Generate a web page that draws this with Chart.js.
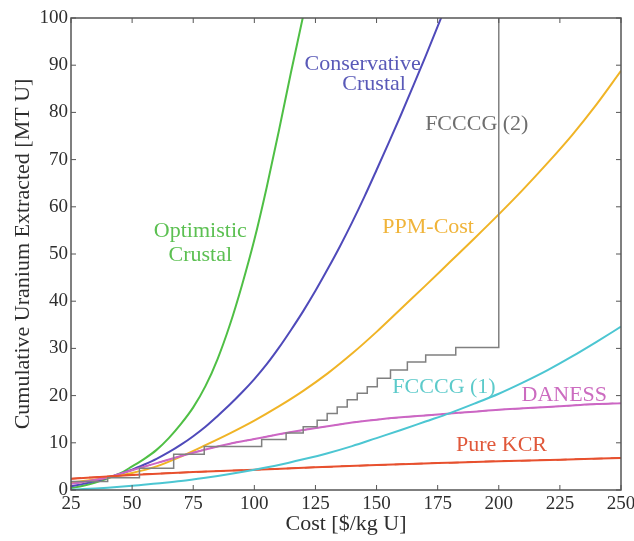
<!DOCTYPE html>
<html>
<head>
<meta charset="utf-8">
<script src="https://cdn.jsdelivr.net/npm/chart.js@4.4.1/dist/chart.umd.min.js"></script>
<style>
  html, body { margin: 0; padding: 0; background: #fff; }
</style>
</head>
<body>
<canvas id="uranio" width="634" height="541"></canvas>
<script>
// ---- curves: cost [$/kg U] -> cumulative uranium [MT U] ----
const optimisticCost = [25,30,35,40,45,50,55,60,65,70,75,80,85,90,95,100,105,110,115,120,125];
const optimisticU    = [0.4,0.9,1.6,2.5,3.5,5.0,6.6,8.5,11,14,17.5,22,27.8,35,43.5,53,64,76,88.5,100.5,113];

const conservCost = [25,30,35,40,45,50,55,60,65,70,75,80,85,90,95,100,105,110,115,120,125,130,135,140,145,150,155,160,165,170,175,180];
const conservU    = [0.8,1.3,1.9,2.6,3.4,4.3,5.4,6.6,8.0,9.6,11.4,13.4,15.7,18.1,20.7,23.5,26.6,30.1,33.9,37.9,42.2,46.8,51.6,56.7,62.1,67.8,73.6,79.5,85.6,91.8,98.2,104.7];

const ppmCost = [25,30,40,50,60,70,80,90,100,110,120,130,140,150,160,170,180,190,200,210,220,230,240,250];
const ppmU    = [1.6,1.9,2.6,3.6,5.0,7.1,9.5,12.0,14.7,17.7,21.0,24.7,28.9,33.5,38.4,43.3,48.3,53.3,58.4,63.7,69.3,75.2,81.7,88.8];

const fcccg1Cost = [25,30,40,50,60,70,80,90,100,110,120,130,140,150,160,170,180,190,200,210,220,230,240,250];
const fcccg1U    = [0.1,0.2,0.5,0.9,1.4,1.9,2.6,3.4,4.3,5.3,6.5,7.8,9.3,11.0,12.7,14.5,16.3,18.3,20.4,22.8,25.4,28.3,31.4,34.6];

const danessCost = [25,30,40,50,60,70,80,90,100,110,120,130,140,150,160,170,180,190,200,210,220,230,240,250];
const danessU    = [1.3,1.7,2.7,4.2,5.7,7.2,8.6,9.8,10.8,11.8,12.7,13.5,14.3,14.9,15.4,15.8,16.2,16.6,17.0,17.3,17.6,17.9,18.2,18.4];

const kcrCost = [25,50,75,100,125,150,175,200,225,250];
const kcrU    = [2.4,3.2,3.8,4.3,4.8,5.3,5.7,6.1,6.4,6.8];

// FCCCG (2) is a step curve: each value holds until the next cost
const fcccg2Cost = [25,40,53,67,79.5,103,113,120,125.7,129.8,133.9,138,142.1,146.2,150.3,155.7,162.6,170.1,182.4,200];
const fcccg2U    = [1.8,2.6,4.6,7.6,9.2,10.7,12.1,13.4,14.8,16.2,17.6,19.1,20.5,21.9,23.7,25.4,27.1,28.6,30.2,100];

const xTicks = [25,50,75,100,125,150,175,200,225,250];
const yTicks = [0,10,20,30,40,50,60,70,80,90,100];

// curve names written next to their lines, one entry per text line
const nameText   = ['Optimistic','Crustal','Conservative','Crustal','FCCCG (2)','PPM-Cost','FCCCG (1)','DANESS','Pure KCR'];
const nameCost   = [77.9, 77.9, 144.3, 149, 191, 171.1, 177.6, 226.8, 201.1];
const nameU      = [54.8, 49.7, 90.3, 86, 77.4, 55.6, 21.7, 20.1, 9.5];
const nameColour = ['#5cc052','#5cc052','#5a5ab8','#5a5ab8','#6e6e6e','#f0b43a','#5ccaca','#cc6cc0','#e0583a'];

const pts = (xs, ys) => xs.map((v, i) => ({x: v, y: ys[i]}));
const serif = "'Liberation Serif', 'DejaVu Serif', serif";

function curve(xs, ys, colour, extra) {
  return Object.assign({
    data: pts(xs, ys),
    borderColor: colour,
    borderWidth: 2,
    pointRadius: 0,
    cubicInterpolationMode: 'monotone',
    fill: false
  }, extra || {});
}

const frameAndNames = {
  id: 'frameAndNames',
  afterDatasetsDraw(chart) {
    const {ctx, chartArea: a, scales: {x, y}} = chart;
    ctx.save();
    ctx.strokeStyle = '#555';
    ctx.lineWidth = 1.5;
    ctx.strokeRect(a.left, a.top, a.right - a.left, a.bottom - a.top);
    ctx.lineWidth = 1;
    ctx.beginPath();
    xTicks.forEach((t) => {
      const px = x.getPixelForValue(t);
      ctx.moveTo(px, a.bottom); ctx.lineTo(px, a.bottom - 5);
      ctx.moveTo(px, a.top); ctx.lineTo(px, a.top + 5);
    });
    yTicks.forEach((t) => {
      const py = y.getPixelForValue(t);
      ctx.moveTo(a.left, py); ctx.lineTo(a.left + 5, py);
      ctx.moveTo(a.right, py); ctx.lineTo(a.right - 5, py);
    });
    ctx.stroke();

    ctx.font = '22px ' + serif;
    ctx.textAlign = 'center';
    ctx.textBaseline = 'middle';
    nameText.forEach((txt, i) => {
      ctx.fillStyle = nameColour[i];
      ctx.fillText(txt, x.getPixelForValue(nameCost[i]), y.getPixelForValue(nameU[i]));
    });
    ctx.restore();
  }
};

new Chart(document.getElementById('uranio'), {
  type: 'line',
  data: {
    datasets: [
      curve(fcccg2Cost, fcccg2U, '#808080', {stepped: 'before', borderWidth: 1.5}),
      curve(fcccg1Cost, fcccg1U, '#4cc6d2'),
      curve(kcrCost, kcrU, '#e8502e'),
      curve(kcrCost, kcrU, '#c8401e', {borderDash: [10, 8], borderWidth: 1.5}),
      curve(danessCost, danessU, '#cc66c4'),
      curve(danessCost, danessU, '#a85098', {borderDash: [10, 8], borderWidth: 1.2}),
      curve(ppmCost, ppmU, '#f0b426'),
      curve(conservCost, conservU, '#4f4aba'),
      curve(optimisticCost, optimisticU, '#4fbf45')
    ]
  },
  options: {
    responsive: false,
    animation: false,
    layout: {padding: {left: 0, top: 18, right: 13, bottom: 0}},
    plugins: {legend: {display: false}, tooltip: {enabled: false}},
    scales: {
      x: {
        type: 'linear',
        min: 25,
        max: 250,
        afterBuildTicks: (s) => { s.ticks = xTicks.map((v) => ({value: v})); },
        afterFit: (s) => { s.height = 51; s.paddingLeft = 0; s.paddingRight = 0; },
        grid: {display: false, drawTicks: false},
        border: {display: false},
        ticks: {color: '#2e2e2e', padding: 3, font: {family: serif, size: 19}},
        title: {display: true, text: 'Cost [$/kg U]', color: '#2e2e2e', padding: {top: 0, bottom: 4}, font: {family: serif, size: 22}}
      },
      y: {
        min: 0,
        max: 100,
        afterBuildTicks: (s) => { s.ticks = yTicks.map((v) => ({value: v})); },
        afterFit: (s) => { s.width = 71; s.paddingTop = 0; s.paddingBottom = 0; },
        grid: {display: false, drawTicks: false},
        border: {display: false},
        ticks: {color: '#2e2e2e', padding: 3, font: {family: serif, size: 19}},
        title: {display: true, text: 'Cumulative Uranium Extracted [MT U]', color: '#2e2e2e', padding: {top: 10, bottom: 0}, font: {family: serif, size: 22}}
      }
    }
  },
  plugins: [frameAndNames]
});
</script>
</body>
</html>
